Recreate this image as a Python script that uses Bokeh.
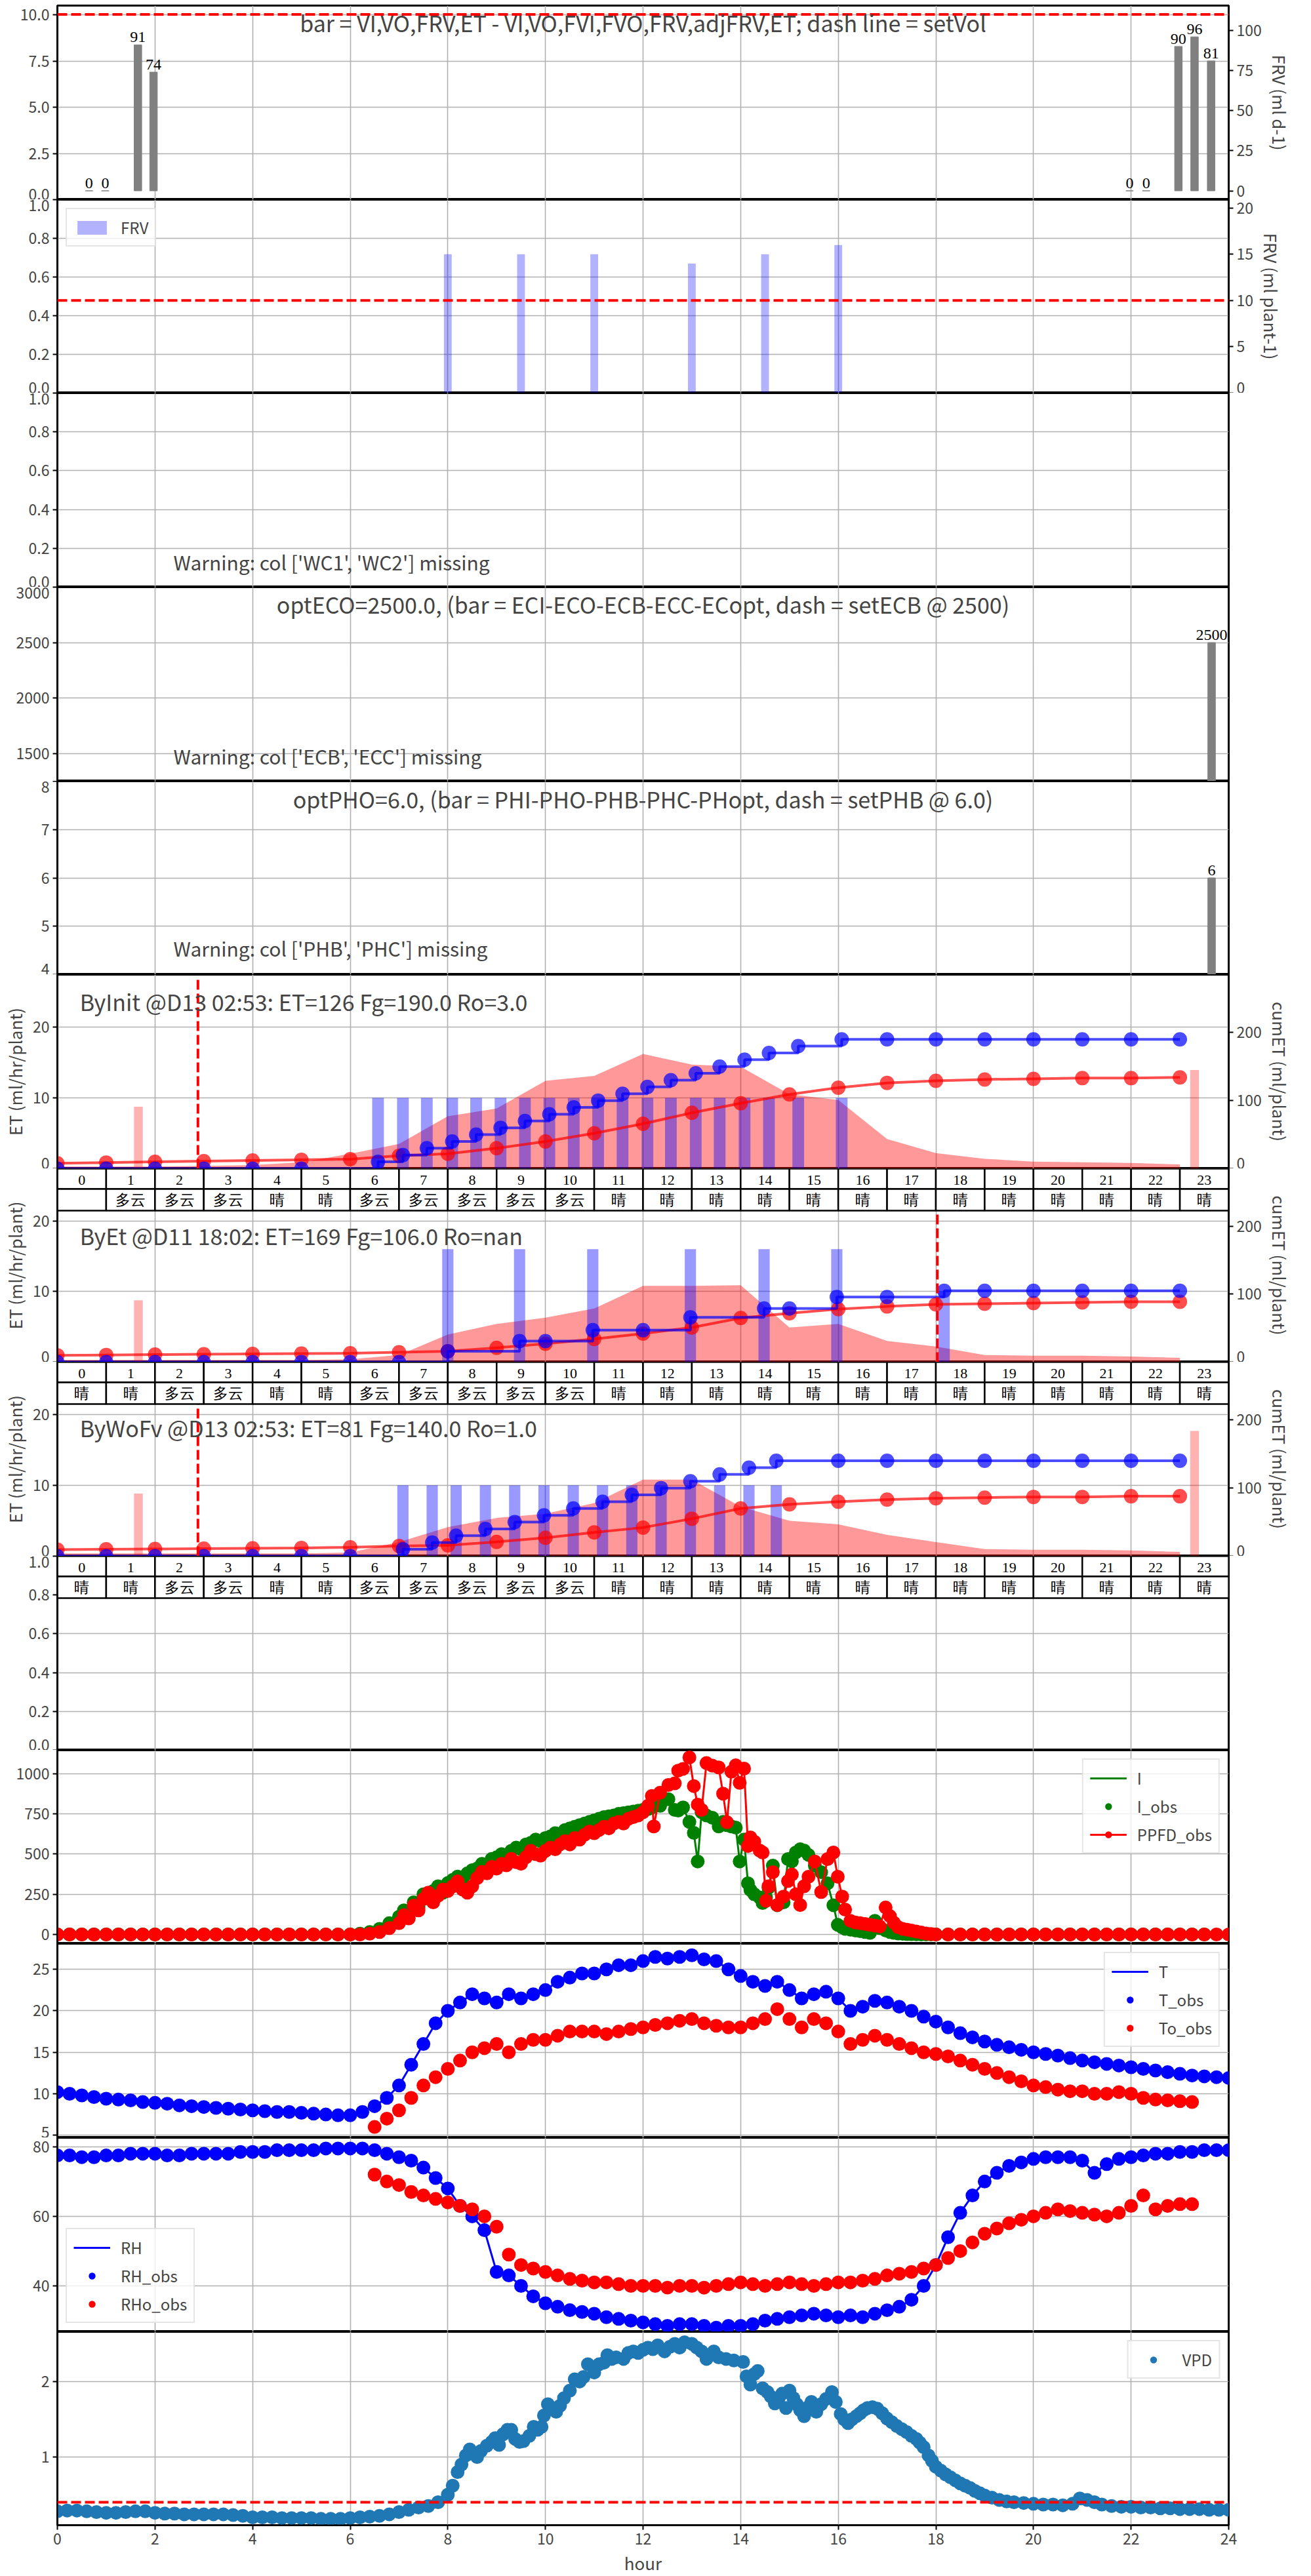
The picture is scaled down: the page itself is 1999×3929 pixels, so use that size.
import numpy as np
from bokeh.plotting import figure
from bokeh.layouts import column
from bokeh.models import (Range1d, LinearAxis, Label, LabelSet, Legend, LegendItem,
                          FixedTicker, PrintfTickFormatter, Span, ColumnDataSource)
from bokeh.embed import file_html
from bokeh.resources import INLINE

FONT = "Noto Sans CJK JP"
HOURS = list(range(24))
XTICKS = list(range(0, 25, 2))

# ---------------- data ----------------
vol_x = [0.65, 0.98, 1.65, 1.97, 21.97, 22.31, 22.97, 23.30, 23.64]
vol_val = [0, 0, 91, 74, 0, 0, 90, 96, 81]
setVol = 110
title1 = "bar = VI,VO,FRV,ET - VI,VO,FVI,FVO,FRV,adjFRV,ET; dash line = setVol"

frv_x = [8.0, 9.5, 11.0, 13.0, 14.5, 16.0]
frv_val = [15, 15, 15, 14, 15, 16]
setFRV = 10

warn3 = "Warning: col ['WC1', 'WC2'] missing"
eco_x = [23.65]
eco_val = [2500]
title4 = "optECO=2500.0, (bar = ECI-ECO-ECB-ECC-ECopt, dash = setECB @ 2500)"
warn4 = "Warning: col ['ECB', 'ECC'] missing"
pho_x = [23.65]
pho_val = [6]
title5 = "optPHO=6.0, (bar = PHI-PHO-PHB-PHC-PHopt, dash = setPHB @ 6.0)"
warn5 = "Warning: col ['PHB', 'PHC'] missing"

wx_a = ["", "多云", "多云", "多云", "晴", "晴", "多云", "多云", "多云", "多云", "多云", "晴",
        "晴", "晴", "晴", "晴", "晴", "晴", "晴", "晴", "晴", "晴", "晴", "晴"]
wx_b = ["晴", "晴", "多云", "多云", "晴", "晴", "多云", "多云", "多云", "多云", "多云", "晴",
        "晴", "晴", "晴", "晴", "晴", "晴", "晴", "晴", "晴", "晴", "晴", "晴"]

s1_title = "ByInit @D13 02:53: ET=126 Fg=190.0 Ro=3.0"
s1_event = 2.88
s1_area = [0.3, 0.3, 0.3, 0.4, 0.5, 0.9, 2.1, 3.5, 7.4, 8.5, 12.4, 13.1, 16.2, 14.7, 14.4,
           10.5, 9.7, 4.2, 2.2, 1.4, 1.0, 0.9, 0.8, 0.6]
s1_bar_x = [6.57, 7.08, 7.57, 8.09, 8.58, 9.08, 9.58, 10.08, 10.58, 11.08, 11.58, 12.09,
            12.57, 13.08, 13.57, 14.08, 14.58, 15.18, 16.07]
s1_bar_val = [10] * 19
s1_cum_x = [0, 1, 2, 3, 4, 5] + s1_bar_x + [17, 18, 19, 20, 21, 22, 23]
s1_cum_val = [0, 0, 0, 0, 0, 0, 10, 20, 30, 40, 50, 60, 70, 80, 90, 100, 110, 120, 130,
              140, 150, 160, 170, 180, 190, 190, 190, 190, 190, 190, 190, 190]
s1_et_cum = [8, 9, 10, 11, 12, 13, 14, 19, 22, 30, 40, 52, 66, 82, 96, 109, 119, 126, 129,
             131, 132, 133, 133, 134]
s1_pink_x = [1.66, 23.30]
s1_pink_val = [91, 145]

s2_title = "ByEt @D11 18:02: ET=169 Fg=106.0 Ro=nan"
s2_event = 18.03
s2_area = [0.3, 0.3, 0.3, 0.3, 0.3, 0.3, 0.4, 1.0, 3.9, 5.4, 6.3, 7.6, 10.8, 10.8, 10.9,
           4.9, 5.4, 3.0, 2.2, 1.0, 0.9, 0.9, 0.8, 0.6]
s2_bar_x = [8.0, 9.47, 10.97, 12.97, 14.48, 15.97, 18.17]
s2_bar_val = [16, 16, 16, 16, 16, 16, 10]
s2_cum_x = [0, 1, 2, 3, 4, 5, 6, 7, 8.0, 9.47, 10, 10.97, 12, 12.97, 14.48, 15, 15.97, 17,
            18.17, 19, 20, 21, 22, 23]
s2_cum_val = [0, 0, 0, 0, 0, 0, 0, 0, 16, 31, 31, 47, 47, 66, 79, 79, 96, 96, 105, 105, 105,
              105, 105, 105]
s2_et_cum = [10, 10.5, 11, 11.5, 12, 12.5, 13, 14.5, 16, 21, 27, 34, 42, 51, 65, 72, 78, 82,
             85, 86, 87, 88, 89, 89]
s2_pink_x = [1.66]
s2_pink_val = [91]

s3_title = "ByWoFv @D13 02:53: ET=81 Fg=140.0 Ro=1.0"
s3_event = 2.88
s3_area = [0.4, 0.4, 0.4, 0.4, 0.4, 0.4, 0.5, 2.0, 4.1, 5.4, 6.0, 7.5, 10.8, 10.8, 7.0,
           5.0, 4.5, 3.0, 2.0, 1.0, 0.9, 0.9, 0.8, 0.6]
s3_bar_x = [7.08, 7.68, 8.17, 8.77, 9.37, 9.97, 10.57, 11.17, 11.77, 12.37, 12.97, 13.57,
            14.17, 14.73]
s3_bar_val = [10] * 14
s3_cum_x = [0, 1, 2, 3, 4, 5, 6] + s3_bar_x + [16, 17, 18, 19, 20, 21, 22, 23]
s3_cum_val = [0] * 7 + [10, 20, 30, 40, 50, 60, 70, 80, 90, 100, 110, 120, 130, 140] + [140] * 8
s3_et_cum = [9.6, 10, 10.5, 11, 11.5, 12, 13, 15, 16, 21, 27, 35, 42, 55, 70, 76, 80, 83, 85,
             86, 87, 87, 88, 88]
s3_pink_x = [1.66, 23.30]
s3_pink_val = [92, 184]

# panel 10: light (hour, value) readings
ppfd_t = [0, 0.25, 0.5, 0.75, 1, 1.25, 1.5, 1.75, 2, 2.25, 2.5, 2.75, 3, 3.25, 3.5, 3.75, 4,
          4.25, 4.5, 4.75, 5, 5.25, 5.5, 5.75, 6, 6.2, 6.4, 6.6, 6.8, 7.0, 7.1, 7.2, 7.3, 7.4,
          7.5, 7.6, 7.7, 7.8, 7.9, 8.0, 8.1, 8.2, 8.3, 8.4, 8.5, 8.6, 8.7, 8.8, 8.9, 9.0, 9.1,
          9.2, 9.3, 9.4, 9.5, 9.6, 9.7, 9.8, 9.9, 10.0, 10.1, 10.2, 10.3, 10.4, 10.5, 10.6, 10.7,
          10.8, 10.9, 11.0, 11.1, 11.2, 11.3, 11.4, 11.5, 11.6, 11.7, 11.8, 11.9, 12.0, 12.1,
          12.18, 12.22, 12.35, 12.52, 12.65, 12.72, 12.82, 12.95, 13.04, 13.12, 13.2, 13.3,
          13.42, 13.55, 13.64, 13.72, 13.81, 13.9, 13.98, 14.07, 14.15, 14.2, 14.28, 14.39,
          14.45, 14.52, 14.57, 14.66, 14.75, 14.88, 14.97, 15.05, 15.13, 15.22, 15.3, 15.39,
          15.52, 15.65, 15.78, 15.9, 15.99, 16.08, 16.14, 16.25, 16.35, 16.45, 16.55, 16.65,
          16.75, 16.85, 16.97, 17.06, 17.14, 17.23, 17.32, 17.41, 17.5, 17.6, 17.7, 17.8,
          17.9, 18.0, 18.25, 18.5, 18.75, 19, 19.25, 19.5, 19.75, 20, 20.25, 20.5, 20.75, 21,
          21.25, 21.5, 21.75, 22, 22.25, 22.5, 22.75, 23, 23.25, 23.5, 23.75, 24]
ppfd_obs = [0] * 25 + [0, 5, 15, 40, 70, 120, 100, 180, 150, 220, 260, 200, 240, 280, 270, 300,
            330, 280, 260, 300, 350, 390, 380, 420, 410, 440, 430, 470, 450, 440, 480, 520, 500,
            490, 520, 540, 530, 560, 580, 560, 600, 590, 620, 640, 630, 650, 670, 660, 690, 700,
            690, 720, 730, 740, 760, 800, 862, 672, 882, 930, 940, 1019, 1030, 1101, 923, 808,
            775, 1066, 1050, 1039, 876, 698, 1012, 1052, 943, 1032, 550, 604, 577, 522, 510,
            209, 300, 387, 183, 236, 332, 373, 250, 183, 300, 359, 454, 264, 469, 510, 359, 236,
            155, 85, 75, 70, 65, 60, 55, 50, 168, 114, 73, 45, 35, 30, 25, 18, 12, 6, 3, 0] + \
           [0] * 24
i_obs = [0] * 25 + [5, 15, 35, 70, 110, 150, 130, 200, 170, 250, 230, 270, 300, 260, 320, 340,
         360, 330, 380, 400, 410, 440, 430, 470, 480, 500, 490, 520, 540, 530, 560, 570, 590,
         580, 600, 610, 630, 620, 650, 660, 670, 680, 690, 700, 710, 720, 730, 735, 740, 750,
         755, 760, 765, 770, 775, 780, 790, 821, 800, 841, 775, 771, 790, 700, 632, 454, 760,
         740, 726, 672, 700, 680, 672, 665, 454, 590, 318, 277, 250, 230, 196, 230, 290, 428,
         182, 200, 469, 455, 510, 530, 522, 495, 428, 387, 318, 182, 60, 45, 35, 30, 25, 20,
         15, 10, 85, 40, 25, 15, 10, 6, 4, 3, 2, 1, 0, 0] + [0] * 24

# panel 11: temperature, every 15 min
t_t = [0, 0.25, 0.5, 0.75, 1, 1.25, 1.5, 1.75, 2, 2.25, 2.5, 2.75, 3, 3.25, 3.5, 3.75, 4, 4.25,
       4.5, 4.75, 5, 5.25, 5.5, 5.75, 6, 6.25, 6.5, 6.75, 7, 7.25, 7.5, 7.75, 8, 8.25, 8.5,
       8.75, 9, 9.25, 9.5, 9.75, 10, 10.25, 10.5, 10.75, 11, 11.25, 11.5, 11.75, 12, 12.25,
       12.5, 12.75, 13, 13.25, 13.5, 13.75, 14, 14.25, 14.5, 14.75, 15, 15.25, 15.5, 15.75, 16,
       16.25, 16.5, 16.75, 17, 17.25, 17.5, 17.75, 18, 18.25, 18.5, 18.75, 19, 19.25, 19.5,
       19.75, 20, 20.25, 20.5, 20.75, 21, 21.25, 21.5, 21.75, 22, 22.25, 22.5, 22.75, 23,
       23.25, 23.5, 23.75, 24]
t_obs = [10.2, 10.0, 9.8, 9.6, 9.4, 9.3, 9.2, 9.0, 8.9, 8.8, 8.6, 8.5, 8.4, 8.3, 8.2, 8.1, 8.0,
         7.9, 7.8, 7.8, 7.7, 7.6, 7.5, 7.4, 7.4, 7.8, 8.5, 9.5, 11, 13.5, 16, 18.5, 20, 21, 22,
         21.5, 21, 22, 21.5, 22, 22.5, 23.5, 24, 24.5, 24.5, 25, 25.5, 25.5, 26, 26.5, 26.3,
         26.5, 26.7, 26.2, 26, 25, 24.2, 23.5, 23, 23.5, 22.5, 21.5, 22, 22.3, 21.5, 20, 20.5,
         21.2, 21, 20.5, 20, 19.3, 18.7, 18, 17.3, 16.8, 16.3, 15.9, 15.6, 15.3, 15, 14.8,
         14.6, 14.3, 14, 13.8, 13.6, 13.4, 13.2, 13, 12.8, 12.6, 12.4, 12.2, 12.1, 12, 11.9]
to_t = t_t[26:94]
to_obs = [6, 7, 8, 9.5, 11, 12, 13, 14, 15, 15.5, 16, 15, 16, 16.5, 16.5, 17, 17.5, 17.5, 17.5,
          17.2, 17.5, 17.8, 18, 18.3, 18.5, 18.8, 19, 18.5, 18.2, 18, 18, 18.5, 19, 20.2, 19,
          18, 19, 18.5, 17.5, 16, 16.5, 17, 16.5, 16, 15.5, 15, 14.8, 14.5, 14, 13.5, 13, 12.5,
          12, 11.5, 11, 10.8, 10.5, 10.3, 10.3, 10, 10, 10.2, 10, 9.5, 9.3, 9.2, 9.1, 9.0]

# panel 12: humidity
rh_obs = [77.5, 77.5, 77, 77, 77.5, 77.5, 78, 78, 78, 77.5, 77.5, 78, 78, 78, 78, 78.5, 78.5,
          78.5, 79, 79, 79, 79, 79.5, 79.5, 79.5, 79.5, 79, 78, 77, 76, 74, 71, 68, 63, 60, 56,
          44, 43, 40, 37, 35, 34, 33, 32.5, 32, 31, 30.5, 30, 29.5, 29, 28.5, 29, 29, 28.5, 28,
          28.5, 28.5, 29, 30, 30.5, 31, 31.5, 32, 31.5, 31, 31.5, 31, 32, 33, 34, 36, 40, 46,
          54, 61, 66, 70, 72.5, 74.5, 75.5, 76.5, 77, 77, 77, 76, 72.5, 75, 76.5, 77, 77.5, 78,
          78, 78.5, 78.5, 79, 79, 79]
rho_obs = [72, 70, 69, 67, 66, 65, 64, 63, 62, 60, 57, 49, 46, 45, 44, 43, 42, 41.5, 41, 41,
           40.5, 40, 40, 40, 39.5, 40, 40, 39.5, 40, 40.5, 41, 40.5, 40, 40.5, 41, 40.5, 40,
           40.5, 41, 41, 41.5, 42, 43, 43.5, 44, 45, 46, 48, 50, 52.5, 55, 56.5, 58, 59, 60, 61,
           62, 61.5, 61, 60.5, 60, 61, 63, 66, 62, 63, 63.5, 63.5]

# panel 13: VPD (hour, value) readings
vpd_t = [0, 0.2, 0.4, 0.6, 0.8, 1.0, 1.2, 1.4, 1.6, 1.8, 2.0, 2.2, 2.4, 2.6, 2.8, 3.0, 3.2, 3.4,
         3.6, 3.8, 4.0, 4.2, 4.4, 4.6, 4.8, 5.0, 5.2, 5.4, 5.6, 5.8, 6.0, 6.2, 6.4, 6.6, 6.8, 7.0,
         7.2, 7.4, 7.6, 7.8, 8.0, 8.1, 8.2, 8.28, 8.37, 8.45, 8.6, 8.68, 8.8, 8.9, 8.97, 9.05,
         9.13, 9.22, 9.3, 9.38, 9.47, 9.55, 9.67, 9.76, 9.84, 9.92, 9.97, 10.05, 10.14, 10.22,
         10.3, 10.38, 10.5, 10.6, 10.7, 10.78, 10.87, 11.0, 11.1, 11.2, 11.27, 11.36, 11.45,
         11.6, 11.7, 11.8, 11.9, 12.0, 12.1, 12.2, 12.3, 12.44, 12.55, 12.65, 12.75, 12.85,
         13.0, 13.1, 13.2, 13.3, 13.45, 13.55, 13.7, 13.86, 14.05, 14.12, 14.2, 14.28, 14.35,
         14.45, 14.55, 14.62, 14.7, 14.78, 14.85, 14.93, 15.0, 15.08, 15.15, 15.22, 15.3,
         15.38, 15.45, 15.55, 15.65, 15.75, 15.87, 15.95, 16.05, 16.12, 16.2, 16.28, 16.37,
         16.45, 16.52, 16.6, 16.7, 16.8, 16.9, 17.0, 17.1, 17.2, 17.3, 17.4, 17.5, 17.6, 17.67,
         17.75, 17.85, 17.92, 18.0, 18.1, 18.2, 18.3, 18.4, 18.5, 18.6, 18.7, 18.8, 18.9, 19.0,
         19.15, 19.3, 19.45, 19.6, 19.8, 20.0, 20.2, 20.4, 20.6, 20.8, 20.95, 21.1, 21.25, 21.4,
         21.6, 21.8, 22.0, 22.2, 22.4, 22.6, 22.8, 23.0, 23.2, 23.4, 23.6, 23.8, 24.0]
vpd = [0.28, 0.29, 0.29, 0.28, 0.27, 0.26, 0.26, 0.27, 0.28, 0.28, 0.26, 0.25, 0.25, 0.24,
       0.24, 0.24, 0.24, 0.24, 0.23, 0.22, 0.20, 0.20, 0.20, 0.19, 0.19, 0.19, 0.19, 0.18,
       0.18, 0.18, 0.19, 0.20, 0.21, 0.22, 0.24, 0.27, 0.30, 0.33, 0.35, 0.40, 0.50, 0.62,
       0.80, 0.90, 1.02, 1.10, 1.00, 1.08, 1.15, 1.20, 1.25, 1.16, 1.30, 1.36, 1.36, 1.24,
       1.20, 1.21, 1.28, 1.40, 1.36, 1.40, 1.55, 1.70, 1.65, 1.60, 1.68, 1.78, 1.88, 2.03,
       2.00, 2.06, 2.23, 2.12, 2.23, 2.25, 2.35, 2.30, 2.32, 2.30, 2.38, 2.40, 2.38, 2.42,
       2.45, 2.43, 2.48, 2.40, 2.46, 2.50, 2.45, 2.52, 2.50, 2.45, 2.40, 2.30, 2.40, 2.32,
       2.30, 2.28, 2.26, 2.07, 1.96, 2.10, 2.14, 1.91, 1.86, 1.80, 1.71, 1.78, 1.84, 1.65,
       1.88, 1.78, 1.70, 1.62, 1.54, 1.66, 1.73, 1.60, 1.70, 1.77, 1.86, 1.73, 1.57, 1.50,
       1.45, 1.50, 1.54, 1.58, 1.62, 1.65, 1.66, 1.64, 1.58, 1.51, 1.46, 1.41, 1.37, 1.33,
       1.28, 1.24, 1.19, 1.13, 1.02, 0.95, 0.87, 0.82, 0.77, 0.73, 0.69, 0.65, 0.62, 0.59,
       0.55, 0.52, 0.49, 0.46, 0.43, 0.41, 0.40, 0.39, 0.38, 0.37, 0.37, 0.36, 0.38, 0.45,
       0.43, 0.40, 0.37, 0.35, 0.34, 0.34, 0.33, 0.33, 0.32, 0.32, 0.31, 0.31, 0.31, 0.30,
       0.30, 0.30]
setVPD = 0.4

# ---------------- layout helpers ----------------
FW = 1786
LB = 85
RB = 112
FHS = [296, 295, 296, 296, 295, 296, 295, 296, 296, 295, 296, 296, 295]
TITLE = "34px"
WARN = "30px"
TICK = "23px"
MK = 21


def style_axis(ax, size=TICK):
    ax.major_label_text_font = FONT
    ax.major_label_text_font_size = size
    ax.major_tick_out = 7
    ax.major_tick_in = 0
    ax.minor_tick_out = 0
    ax.minor_tick_in = 0
    ax.major_tick_line_width = 2
    ax.axis_line_width = 2
    ax.axis_label_text_font = FONT
    ax.axis_label_text_font_size = "26px"
    ax.axis_label_text_font_style = "normal"
    ax.axis_label_standoff = 6
    ax.major_label_standoff = 5


def make_fig(i, ylo, yhi, yticks, fmt=None, top=0, bottom=0, show_x=False):
    p = figure(frame_width=FW, frame_height=FHS[i], x_range=Range1d(0, 24),
               y_range=Range1d(ylo, yhi), output_backend="svg", toolbar_location=None,
               min_border_left=LB, min_border_right=RB, min_border_top=top,
               min_border_bottom=bottom)
    p.outline_line_color = "black"
    p.outline_line_width = 3
    p.outline_line_alpha = 1
    p.xaxis.ticker = FixedTicker(ticks=XTICKS)
    p.xgrid.ticker = FixedTicker(ticks=XTICKS)
    p.yaxis.ticker = FixedTicker(ticks=yticks)
    p.ygrid.ticker = FixedTicker(ticks=yticks)
    if fmt:
        p.yaxis.formatter = PrintfTickFormatter(format=fmt)
    for g in (p.xgrid, p.ygrid):
        g.grid_line_color = "#b0b0b0"
        g.grid_line_width = 1.6
    p.xaxis.visible = show_x
    for ax in p.yaxis + p.xaxis:
        style_axis(ax)
    return p


def add_right(p, name, lo, hi, ticks, label=None):
    p.extra_y_ranges[name] = Range1d(lo, hi)
    ax = LinearAxis(y_range_name=name, ticker=FixedTicker(ticks=ticks))
    if label:
        ax.axis_label = label
    style_axis(ax)
    p.add_layout(ax, "right")
    return ax


def ypx(p, i, px):
    lo, hi = p.y_range.start, p.y_range.end
    return hi - px / FHS[i] * (hi - lo)


def text_label(p, x, y, txt, size=TITLE, align="left", baseline="middle"):
    p.add_layout(Label(x=x, y=y, text=txt, text_font=FONT, text_font_size=size,
                       text_align=align, text_baseline=baseline))


def label_set(p, xs, ys, texts, size, baseline="middle", y_offset=0, rng="default"):
    src = ColumnDataSource(dict(x=list(xs), y=list(ys), t=list(texts)))
    p.add_layout(LabelSet(x="x", y="y", text="t", source=src, text_align="center",
                          text_baseline=baseline, text_font=FONT, text_font_size=size,
                          y_offset=y_offset, y_range_name=rng, text_color="black"))


def draw_table(p, i, weather):
    hi = p.y_range.end
    r1 = ypx(p, i, 31)
    r2 = ypx(p, i, 64)
    xs = np.array(HOURS, dtype=float)
    p.quad(left=xs, right=xs + 1, top=hi, bottom=r1, fill_color="white",
           line_color="black", line_width=2.5)
    p.quad(left=xs, right=xs + 1, top=r1, bottom=r2, fill_color="white",
           line_color="black", line_width=2.5)
    label_set(p, xs + 0.5, [ypx(p, i, 17)] * 24, [str(h) for h in HOURS], "22px")
    label_set(p, xs + 0.5, [ypx(p, i, 48)] * 24, weather, "23px")


def dash_h(p, loc, rng="default"):
    p.add_layout(Span(location=loc, dimension="width", line_color="red", line_width=4,
                      line_dash="15 6", y_range_name=rng))


def bar_labels(p, xs, vals, rng="default"):
    label_set(p, xs, vals, [str(v) for v in vals], "24px", baseline="bottom", y_offset=4,
              rng=rng)


def style_legend(leg):
    leg.label_text_font = FONT
    leg.label_text_font_size = "24px"
    leg.border_line_color = "#cccccc"
    leg.border_line_width = 2
    leg.background_fill_alpha = 0.8
    leg.glyph_width = 56
    leg.glyph_height = 26
    leg.label_standoff = 16
    leg.spacing = 8
    leg.padding = 10
    leg.margin = 13


figs = []

# ---- panel 1
p = make_fig(0, 0, 10.5, [0, 2.5, 5, 7.5, 10], "%.1f", top=8)
add_right(p, "vol", -5.5, 115.5, [0, 25, 50, 75, 100], "FRV (ml d-1)")
p.vbar(x=vol_x, top=vol_val, bottom=0, width=0.155, fill_color="gray", line_color="gray",
       y_range_name="vol")
bar_labels(p, vol_x, vol_val, "vol")
dash_h(p, setVol, "vol")
text_label(p, 12, ypx(p, 0, 26), title1, align="center")
figs.append(p)

# ---- panel 2
p = make_fig(1, 0, 1, [0, 0.2, 0.4, 0.6, 0.8, 1.0], "%.1f")
add_right(p, "frv", 0, 20.9, [0, 5, 10, 15, 20], "FRV (ml plant-1)")
rb = p.vbar(x=frv_x, top=frv_val, bottom=0, width=0.16, fill_color="blue", fill_alpha=0.3,
            line_color=None, y_range_name="frv")
dash_h(p, setFRV, "frv")
leg = Legend(items=[LegendItem(label="FRV", renderers=[rb])], location="top_left")
style_legend(leg)
p.add_layout(leg)
figs.append(p)

# ---- panel 3
p = make_fig(2, 0, 1, [0, 0.2, 0.4, 0.6, 0.8, 1.0], "%.1f")
text_label(p, 2.38, ypx(p, 2, 296 - 39), warn3, size=WARN)
figs.append(p)

# ---- panel 4
p = make_fig(3, 1250, 3000, [1500, 2000, 2500, 3000], "%d")
p.vbar(x=eco_x, top=eco_val, bottom=0, width=0.155, fill_color="gray", line_color="gray")
bar_labels(p, eco_x, eco_val)
text_label(p, 12, ypx(p, 3, 26), title4, align="center")
text_label(p, 2.38, ypx(p, 3, 296 - 39), warn4, size=WARN)
figs.append(p)

# ---- panel 5
p = make_fig(4, 4, 8, [4, 5, 6, 7, 8], "%d")
p.vbar(x=pho_x, top=pho_val, bottom=0, width=0.155, fill_color="gray", line_color="gray")
bar_labels(p, pho_x, pho_val)
text_label(p, 12, ypx(p, 4, 27), title5, align="center")
text_label(p, 2.38, ypx(p, 4, 295 - 41), warn5, size=WARN)
figs.append(p)


def scenario(i, title, title_px, event, area, bar_x, bar_val, bar_w, cum_x, cum_val, et_cum,
             pink_x, pink_val, prev_weather):
    p = make_fig(i, 0, 27.4, [0, 10, 20], "%d")
    p.yaxis.axis_label = "ET (ml/hr/plant)"
    add_right(p, "cum", 0, 285, [0, 100, 200], "cumET (ml/plant)")
    p.varea(x=HOURS, y1=[0] * 24, y2=area, fill_color="red", fill_alpha=0.4)
    p.vbar(x=pink_x, top=pink_val, bottom=0, width=0.18, fill_color="red", fill_alpha=0.3,
           line_color=None, y_range_name="cum")
    p.vbar(x=bar_x, top=bar_val, bottom=0, width=bar_w, fill_color="blue", fill_alpha=0.4,
           line_color=None)
    p.line(HOURS, et_cum, line_color="red", line_alpha=0.7, line_width=4, y_range_name="cum")
    p.scatter(HOURS, et_cum, size=22, fill_color="red", fill_alpha=0.7, line_color=None,
              y_range_name="cum")
    p.step(cum_x, cum_val, mode="after", line_color="blue", line_alpha=0.7, line_width=4,
           y_range_name="cum")
    p.scatter(cum_x, cum_val, size=22, fill_color="blue", fill_alpha=0.7, line_color=None,
              y_range_name="cum")
    p.segment(x0=[event], y0=[0], x1=[event], y1=[ypx(p, i, 6)], line_color="red",
              line_width=4, line_dash="15 6")
    text_label(p, 0.46, ypx(p, i, title_px), title)
    if prev_weather is not None:
        draw_table(p, i, prev_weather)
    return p


figs.append(scenario(5, s1_title, 41, s1_event, s1_area, s1_bar_x, s1_bar_val, 0.24,
                     s1_cum_x, s1_cum_val, s1_et_cum, s1_pink_x, s1_pink_val, None))
figs.append(scenario(6, s2_title, 102, s2_event, s2_area, s2_bar_x, s2_bar_val, 0.23,
                     s2_cum_x, s2_cum_val, s2_et_cum, s2_pink_x, s2_pink_val, wx_a))
figs.append(scenario(7, s3_title, 100, s3_event, s3_area, s3_bar_x, s3_bar_val, 0.23,
                     s3_cum_x, s3_cum_val, s3_et_cum, s3_pink_x, s3_pink_val, wx_b))

# ---- panel 9 (empty, carries table of panel 8)
p = make_fig(8, 0, 1, [0, 0.2, 0.4, 0.6, 0.8, 1.0], "%.1f")
draw_table(p, 8, wx_b)
figs.append(p)

# ---- panel 10
p = make_fig(9, -57, 1146, [0, 250, 500, 750, 1000], "%d")
r_i = p.line(ppfd_t, i_obs, line_color="green", line_width=3)
r_io = p.scatter(ppfd_t, i_obs, size=MK, fill_color="green", line_color=None)
r_pl = p.line(ppfd_t, ppfd_obs, line_color="red", line_width=3)
r_ps = p.scatter(ppfd_t, ppfd_obs, size=MK, fill_color="red", line_color=None)
lg = Legend(items=[LegendItem(label="I", renderers=[r_i]),
                   LegendItem(label="I_obs", renderers=[r_io]),
                   LegendItem(label="PPFD_obs", renderers=[r_pl, r_ps])], location="top_right")
style_legend(lg)
p.add_layout(lg)
figs.append(p)

# ---- panel 11
p = make_fig(10, 4.7, 28.1, [5, 10, 15, 20, 25], "%d")
r_t = p.line(t_t, t_obs, line_color="blue", line_width=3)
r_to = p.scatter(t_t, t_obs, size=MK, fill_color="blue", line_color=None)
r_oo = p.scatter(to_t, to_obs, size=MK, fill_color="red", line_color=None)
lg = Legend(items=[LegendItem(label="T", renderers=[r_t]),
                   LegendItem(label="T_obs", renderers=[r_to]),
                   LegendItem(label="To_obs", renderers=[r_oo])], location="top_right")
style_legend(lg)
p.add_layout(lg)
figs.append(p)

# ---- panel 12
p = make_fig(11, 26.8, 82.6, [40, 60, 80], "%d")
r_rh = p.line(t_t, rh_obs, line_color="blue", line_width=3)
r_rho = p.scatter(t_t, rh_obs, size=MK, fill_color="blue", line_color=None)
r_ro = p.scatter(to_t, rho_obs, size=MK, fill_color="red", line_color=None)
lg = Legend(items=[LegendItem(label="RH", renderers=[r_rh]),
                   LegendItem(label="RH_obs", renderers=[r_rho]),
                   LegendItem(label="RHo_obs", renderers=[r_ro])], location="bottom_left")
style_legend(lg)
p.add_layout(lg)
figs.append(p)

# ---- panel 13
p = make_fig(12, 0.096, 2.66, [1, 2], "%d", bottom=62, show_x=True)
p.xaxis.axis_label = "hour"
r_v = p.scatter(vpd_t, vpd, size=MK, fill_color="#1f77b4", line_color=None)
dash_h(p, setVPD)
lg = Legend(items=[LegendItem(label="VPD", renderers=[r_v])], location="top_right")
style_legend(lg)
p.add_layout(lg)
figs.append(p)

layout = column(*figs, spacing=0)
open("out.html", "w").write(file_html(layout, INLINE))
